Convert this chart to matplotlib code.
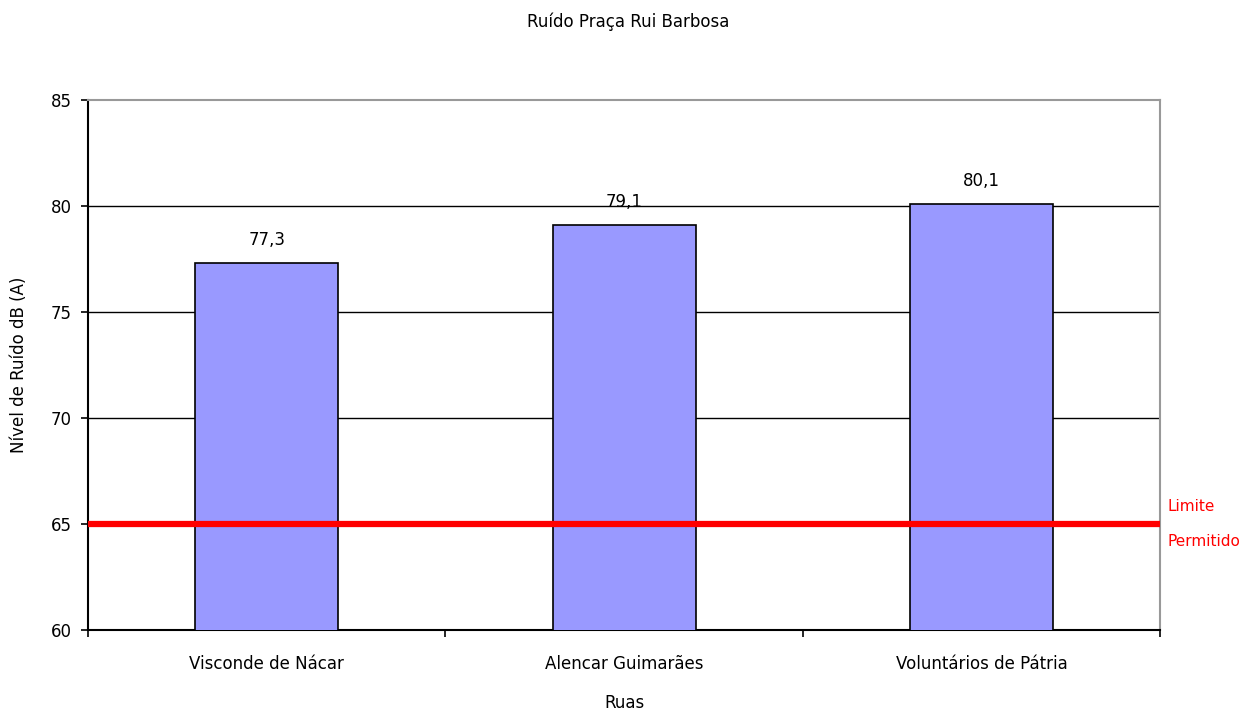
import matplotlib
matplotlib.use("Agg")
import matplotlib.pyplot as plt
from matplotlib.ticker import FixedLocator, NullFormatter

ruas = ["Visconde de Nácar", "Alencar Guimarães", "Voluntários de Pátria"]
nivel_db = [77.3, 79.1, 80.1]
limite = 65
y_ticks = [60, 65, 70, 75, 80, 85]

plt.rcParams['font.family'] = ['DejaVu Sans']
FS = 12

fig = plt.figure(figsize=(12.56, 7.15), dpi=100)
ax = fig.add_axes([0.0701, 0.1189, 0.8535, 0.7412])

x = list(range(len(ruas)))
ax.bar(x, nivel_db, width=0.4, color="#9999FF", edgecolor="black", linewidth=1.2, zorder=3)

for xi, v in zip(x, nivel_db):
    ax.text(xi, v + 0.65, f"{v:.1f}".replace(".", ","), ha="center", va="bottom",
            fontsize=FS, color="black", zorder=5)

ax.set_xlim(-0.5, len(ruas) - 0.5)
ax.set_ylim(60, 85)
ax.set_yticks(y_ticks)
ax.set_yticklabels([str(t) for t in y_ticks], fontsize=FS)
ax.set_xticks(x)
ax.set_xticklabels(ruas, fontsize=FS)
ax.tick_params(axis="x", which="major", length=0, pad=18)
ax.xaxis.set_minor_locator(FixedLocator([i - 0.5 for i in range(len(ruas) + 1)]))
ax.xaxis.set_minor_formatter(NullFormatter())
ax.tick_params(axis="x", which="minor", length=5, width=1.2, direction="out")
ax.tick_params(axis="y", length=5, width=1.2, direction="out", pad=7)

for t in y_ticks[1:-1]:
    ax.axhline(t, color="black", linewidth=1.0, zorder=1)

ax.axhline(limite, color="#FF0000", linewidth=4.5, zorder=4)
ax.text(1.007, (limite - 60) / 25 + 0.033, "Limite", transform=ax.transAxes,
        color="#FF0000", fontsize=11, ha="left", va="center")
ax.text(1.007, (limite - 60) / 25 - 0.033, "Permitido", transform=ax.transAxes,
        color="#FF0000", fontsize=11, ha="left", va="center")

for side in ["left", "bottom"]:
    ax.spines[side].set_color("black")
    ax.spines[side].set_linewidth(1.5)
for side in ["top", "right"]:
    ax.spines[side].set_color("#999999")
    ax.spines[side].set_linewidth(1.5)

ax.set_ylabel("Nível de Ruído dB (A)", fontsize=FS, labelpad=16)
ax.set_xlabel("Ruas", fontsize=FS, labelpad=15)
fig.text(0.5, 1 - 22 / 715, "Ruído Praça Rui Barbosa", fontsize=FS,
         ha="center", va="center")

fig.savefig("out.png", dpi=100)
